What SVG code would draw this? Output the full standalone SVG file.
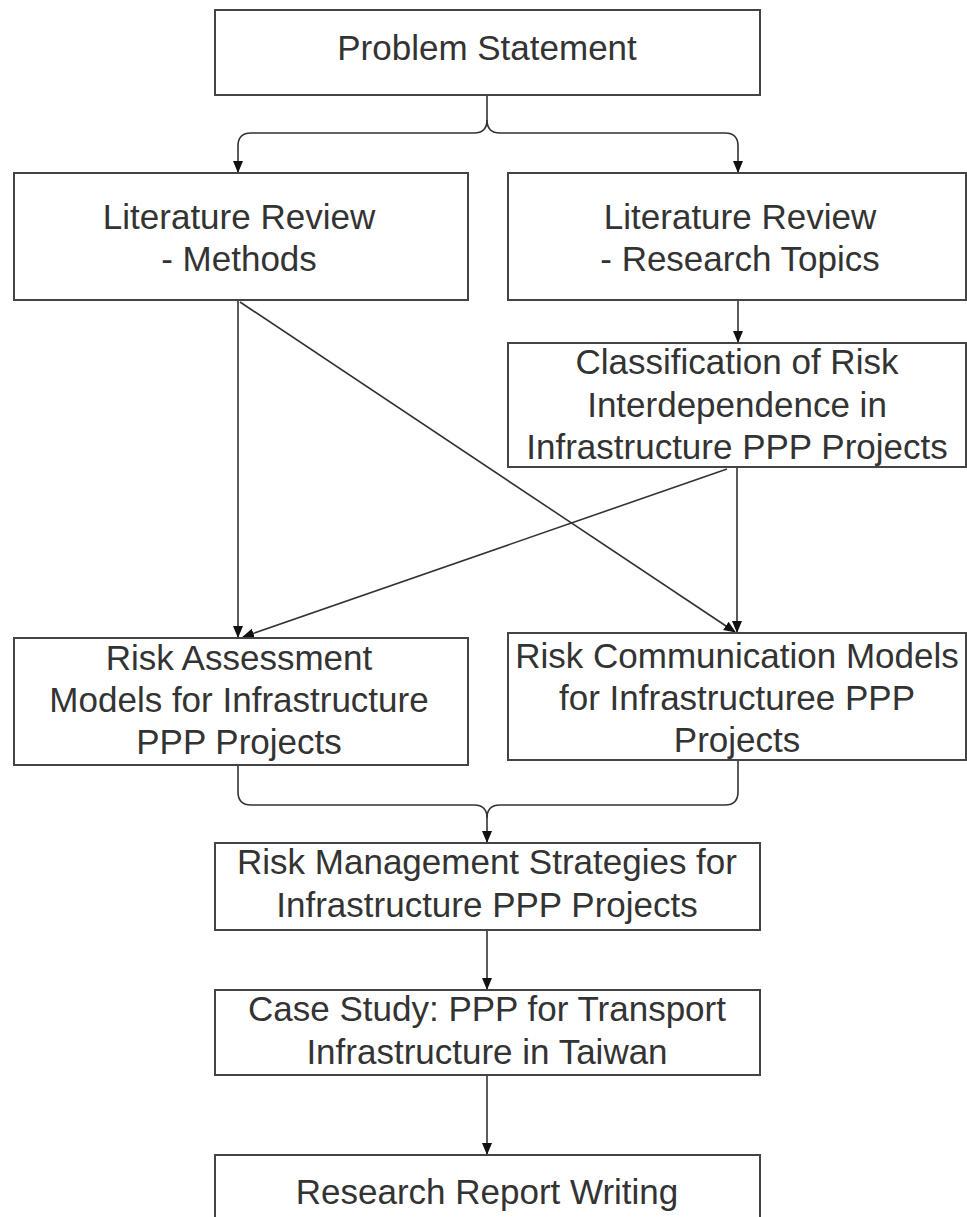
<svg xmlns="http://www.w3.org/2000/svg" width="967" height="1217" viewBox="0 0 967 1217">
<style>
.box{fill:#fff;stroke:#444;stroke-width:2}
.t{font-family:"Liberation Sans",Arial,sans-serif;font-size:35px;fill:#333;text-anchor:middle}
.c{fill:none;stroke:#333;stroke-width:1.6}
</style>
<defs>
<marker id="ah" markerUnits="userSpaceOnUse" markerWidth="12" markerHeight="14" refX="11" refY="6" orient="auto" viewBox="0 0 12 12">
<path d="M0,1 L12,6 L0,11 Z" fill="#111"/>
</marker>
</defs>
<rect width="967" height="1217" fill="#fff"/>
<g id="connectors">
<path class="c" d="M487,95 V120 Q487,133 474,133 H251 Q238,133 238,146 V172" marker-end="url(#ah)"/>
<path class="c" d="M487,120 Q487,133 500,133 H725 Q738,133 738,146 V172" marker-end="url(#ah)"/>
<path class="c" d="M738,300 V342" marker-end="url(#ah)"/>
<path class="c" d="M238,300 V637" marker-end="url(#ah)"/>
<path class="c" d="M240,302 L735,632" marker-end="url(#ah)"/>
<path class="c" d="M737,467 V632" marker-end="url(#ah)"/>
<path class="c" d="M727,469 L243,637" marker-end="url(#ah)"/>
<path class="c" d="M238,765 V792 Q238,805 251,805 H474 Q487,805 487,818 V842" marker-end="url(#ah)"/>
<path class="c" d="M738,760 V792 Q738,805 725,805 H500 Q487,805 487,818"/>
<path class="c" d="M487,930 V989" marker-end="url(#ah)"/>
<path class="c" d="M487,1075 V1154" marker-end="url(#ah)"/>
</g>
<g id="n1"><rect class="box" x="215" y="10" width="545" height="85"/><text class="t" x="487" y="60">Problem Statement</text></g>
<g id="n2"><rect class="box" x="14" y="173" width="454" height="127"/><text class="t" x="239" y="229">Literature Review</text><text class="t" x="239" y="271">- Methods</text></g>
<g id="n3"><rect class="box" x="508" y="173" width="458" height="127"/><text class="t" x="740" y="229">Literature Review</text><text class="t" x="740" y="271">- Research Topics</text></g>
<g id="n4"><rect class="box" x="508" y="343" width="458" height="124"/><text class="t" x="737" y="374">Classification of Risk</text><text class="t" x="737" y="417">Interdependence in</text><text class="t" x="737" y="459">Infrastructure PPP Projects</text></g>
<g id="n5"><rect class="box" x="14" y="638" width="454" height="127"/><text class="t" x="239" y="670">Risk Assessment</text><text class="t" x="239" y="712">Models for Infrastructure</text><text class="t" x="239" y="754">PPP Projects</text></g>
<g id="n6"><rect class="box" x="508" y="633" width="458" height="127"/><text class="t" x="737" y="668">Risk Communication Models</text><text class="t" x="737" y="710">for Infrastructuree PPP</text><text class="t" x="737" y="752">Projects</text></g>
<g id="n7"><rect class="box" x="215" y="843" width="545" height="87"/><text class="t" x="487" y="874">Risk Management Strategies for</text><text class="t" x="487" y="917">Infrastructure PPP Projects</text></g>
<g id="n8"><rect class="box" x="215" y="990" width="545" height="85"/><text class="t" x="487" y="1021">Case Study: PPP for Transport</text><text class="t" x="487" y="1064">Infrastructure in Taiwan</text></g>
<g id="n9"><rect class="box" x="215" y="1155" width="545" height="80"/><text class="t" x="487" y="1204">Research Report Writing</text></g>
</svg>
